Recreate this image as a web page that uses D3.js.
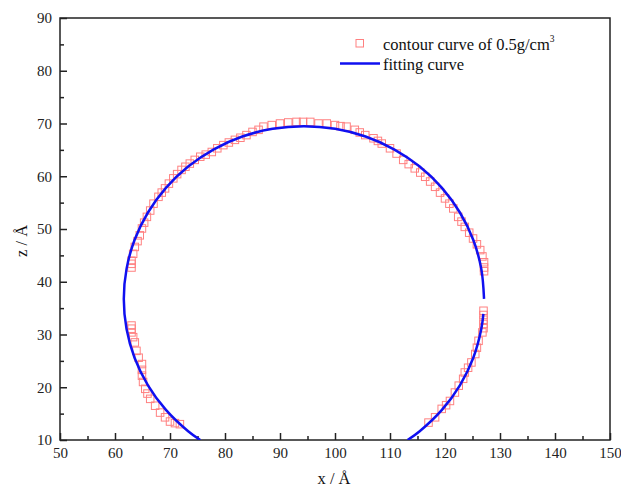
<!DOCTYPE html>
<html>
<head>
<meta charset="utf-8">
<script src="https://cdn.jsdelivr.net/npm/d3@7"></script>
<style>
  body { margin: 0; background: #fff; }
  svg { display: block; }
  svg text { font-family: "Liberation Serif", "DejaVu Serif", serif; }
</style>
</head>
<body>
<svg width="621" height="487"></svg>
<script>
// axis ticks
const xTicks = [50, 60, 70, 80, 90, 100, 110, 120, 130, 140, 150];
const yTicks = [10, 20, 30, 40, 50, 60, 70, 80, 90];
const xMinor = [55, 65, 75, 85, 95, 105, 115, 125, 135, 145];
const yMinor = [15, 25, 35, 45, 55, 65, 75, 85];

// contour points (x, z)
const contourLeftLow = [[71.8,13.0],[70.9,13.2],[70.0,13.5],[69.1,14.3],[68.2,15.2],[67.3,16.5],[66.4,17.8],[65.9,18.8],[65.5,19.7],[65.1,21.0],[64.9,22.2],[64.9,23.3],[64.9,24.4],[64.3,25.6],[63.9,26.9],[63.6,28.5],[63.3,29.5],[63.0,30.4],[63.0,31.1],[63.0,31.7]];
const contourUpper = [[63.0,42.7],[63.0,43.4],[63.0,44.0],[63.3,45.3],[63.6,46.6],[64.1,47.7],[64.5,48.8],[64.9,50.1],[65.3,51.2],[65.8,52.3],[66.4,53.5],[67.0,54.8],[67.9,56.1],[68.5,56.9],[69.1,57.7],[69.8,58.6],[70.6,59.6],[71.3,60.4],[72.1,61.2],[72.8,61.8],[73.6,62.4],[74.5,63.1],[75.5,63.7],[76.5,64.1],[77.6,64.6],[78.6,65.3],[79.7,65.9],[80.7,66.4],[81.8,66.9],[82.8,67.3],[83.9,67.8],[85.0,68.4],[86.1,68.8],[87.0,69.4],[88.5,69.7],[90.0,70.0],[91.5,70.2],[93.0,70.3],[94.2,70.3],[95.5,70.3],[97.0,70.0],[98.5,70.0],[100.0,69.7],[101.0,69.5],[102.1,69.4],[103.6,68.8],[104.5,68.3],[105.5,67.8],[107.0,67.2],[107.8,66.7],[108.5,66.2],[110.0,65.3],[111.2,64.3],[112.4,63.1],[113.4,62.3],[114.5,61.5],[115.5,60.7],[116.4,59.9],[117.3,59.0],[118.2,58.0],[119.1,56.9],[120.0,55.8],[120.8,54.8],[121.5,53.9],[122.4,52.3],[123.0,51.4],[123.6,50.4],[124.4,49.3],[125.1,48.2],[125.8,47.1],[126.4,46.0],[126.8,44.8],[127.1,43.7],[127.1,42.7],[127.1,42.0]];
const contourRightLow = [[127.0,34.5],[127.0,33.7],[127.0,32.8],[127.0,32.0],[127.0,31.2],[126.8,30.4],[126.1,28.8],[125.8,27.5],[125.5,26.3],[124.8,24.7],[124.2,23.7],[123.6,22.8],[123.3,21.6],[122.5,20.3],[121.8,19.0],[120.9,17.4],[120.2,16.6],[119.4,15.9],[118.2,14.3],[117.0,13.3]];

// fitting curve, two pieces
const fitMain = [[75.5,10.0],[73.30,11.66],[69.26,15.70],[65.99,20.37],[63.57,25.55],[62.10,31.06],[61.60,36.75],[62.10,42.44],[63.57,47.95],[65.99,53.13],[69.26,57.80],[73.30,61.84],[77.97,65.11],[83.15,67.53],[88.66,69.00],[94.35,69.50],[100.04,69.00],[105.55,67.53],[110.73,65.11],[115.40,61.84],[119.44,57.80],[122.71,53.13],[125.13,47.95],[126.60,42.44],[127.10,36.75]];
const fitTail = [[126.98,33.89],[126.60,31.06],[125.13,25.55],[122.71,20.37],[119.44,15.70],[115.40,11.66],[113.2,10.0]];

const svg = d3.select('svg');
const mLeft = 60, mRight = 610, mTop = 18, mBottom = 440;
const serif = '"Liberation Serif", "DejaVu Serif", serif';

const x = d3.scaleLinear().domain([50, 150]).range([mLeft, mRight]);
const y = d3.scaleLinear().domain([10, 90]).range([mBottom, mTop]);

svg.append('clipPath').attr('id', 'plot')
    .append('rect')
    .attr('x', mLeft).attr('y', mTop)
    .attr('width', mRight - mLeft).attr('height', mBottom - mTop);

// minor ticks
svg.append('g')
    .attr('transform', 'translate(0,' + mBottom + ')')
    .call(d3.axisBottom(x).tickValues(xMinor).tickSize(-4).tickFormat(''))
    .call(g => g.select('.domain').remove());
svg.append('g')
    .attr('transform', 'translate(' + mLeft + ',0)')
    .call(d3.axisLeft(y).tickValues(yMinor).tickSize(-4).tickFormat(''))
    .call(g => g.select('.domain').remove());

// major ticks
const xAxis = svg.append('g')
    .attr('transform', 'translate(0,' + mBottom + ')')
    .call(d3.axisBottom(x).tickValues(xTicks).tickSize(-7).tickPadding(7));
const yAxis = svg.append('g')
    .attr('transform', 'translate(' + mLeft + ',0)')
    .call(d3.axisLeft(y).tickValues(yTicks).tickSize(-7).tickPadding(8));

[xAxis, yAxis].forEach(g => {
    g.select('.domain').remove();
    g.attr('font-family', serif);
    g.selectAll('text')
        .attr('font-size', 15)
        .attr('fill', '#222');
});
svg.selectAll('.tick line').attr('stroke', '#222').attr('stroke-width', 1.5);

// frame
svg.append('rect')
    .attr('x', mLeft).attr('y', mTop)
    .attr('width', mRight - mLeft).attr('height', mBottom - mTop)
    .attr('fill', 'none')
    .attr('stroke', '#222')
    .attr('stroke-width', 1.5);

// contour squares
const plot = svg.append('g').attr('clip-path', 'url(#plot)');
const sq = 7.5;
plot.selectAll('.pt')
    .data(contourLeftLow.concat(contourUpper, contourRightLow))
    .enter()
    .append('rect')
    .attr('class', 'pt')
    .attr('x', d => x(d[0]) - sq / 2)
    .attr('y', d => y(d[1]) - sq / 2)
    .attr('width', sq).attr('height', sq)
    .attr('fill', 'none')
    .attr('stroke', '#ff8080')
    .attr('stroke-width', 1);

// fitting curve
const line = d3.line()
    .curve(d3.curveCatmullRom)
    .x(d => x(d[0]))
    .y(d => y(d[1]));
plot.selectAll('.fit')
    .data([fitMain, fitTail])
    .enter()
    .append('path')
    .attr('class', 'fit')
    .attr('d', line)
    .attr('fill', 'none')
    .attr('stroke', '#1010f0')
    .attr('stroke-width', 2.5);

// legend
svg.append('rect')
    .attr('x', 356).attr('y', 39.5)
    .attr('width', sq).attr('height', sq)
    .attr('fill', 'none').attr('stroke', '#ff8080');
const t1 = svg.append('text')
    .attr('x', 383).attr('y', 50)
    .attr('font-family', serif)
    .attr('font-size', 16.5).attr('fill', '#111')
    .text('contour curve of 0.5g/cm');
t1.append('tspan').attr('dy', -8).attr('font-size', 9.5).text('3');
svg.append('line')
    .attr('x1', 340).attr('x2', 380)
    .attr('y1', 63.5).attr('y2', 63.5)
    .attr('stroke', '#1010f0').attr('stroke-width', 2.5);
svg.append('text')
    .attr('x', 383).attr('y', 70)
    .attr('font-family', serif)
    .attr('font-size', 16.5).attr('fill', '#111')
    .text('fitting curve');

// axis titles
svg.append('text')
    .attr('x', 334).attr('y', 484)
    .attr('text-anchor', 'middle')
    .attr('font-family', serif)
    .attr('font-size', 16.5).attr('fill', '#111')
    .text('x / Å');
svg.append('text')
    .attr('transform', 'translate(27,241) rotate(-90)')
    .attr('text-anchor', 'middle')
    .attr('font-family', serif)
    .attr('font-size', 16.5).attr('fill', '#111')
    .text('z / Å');
</script>
</body>
</html>
